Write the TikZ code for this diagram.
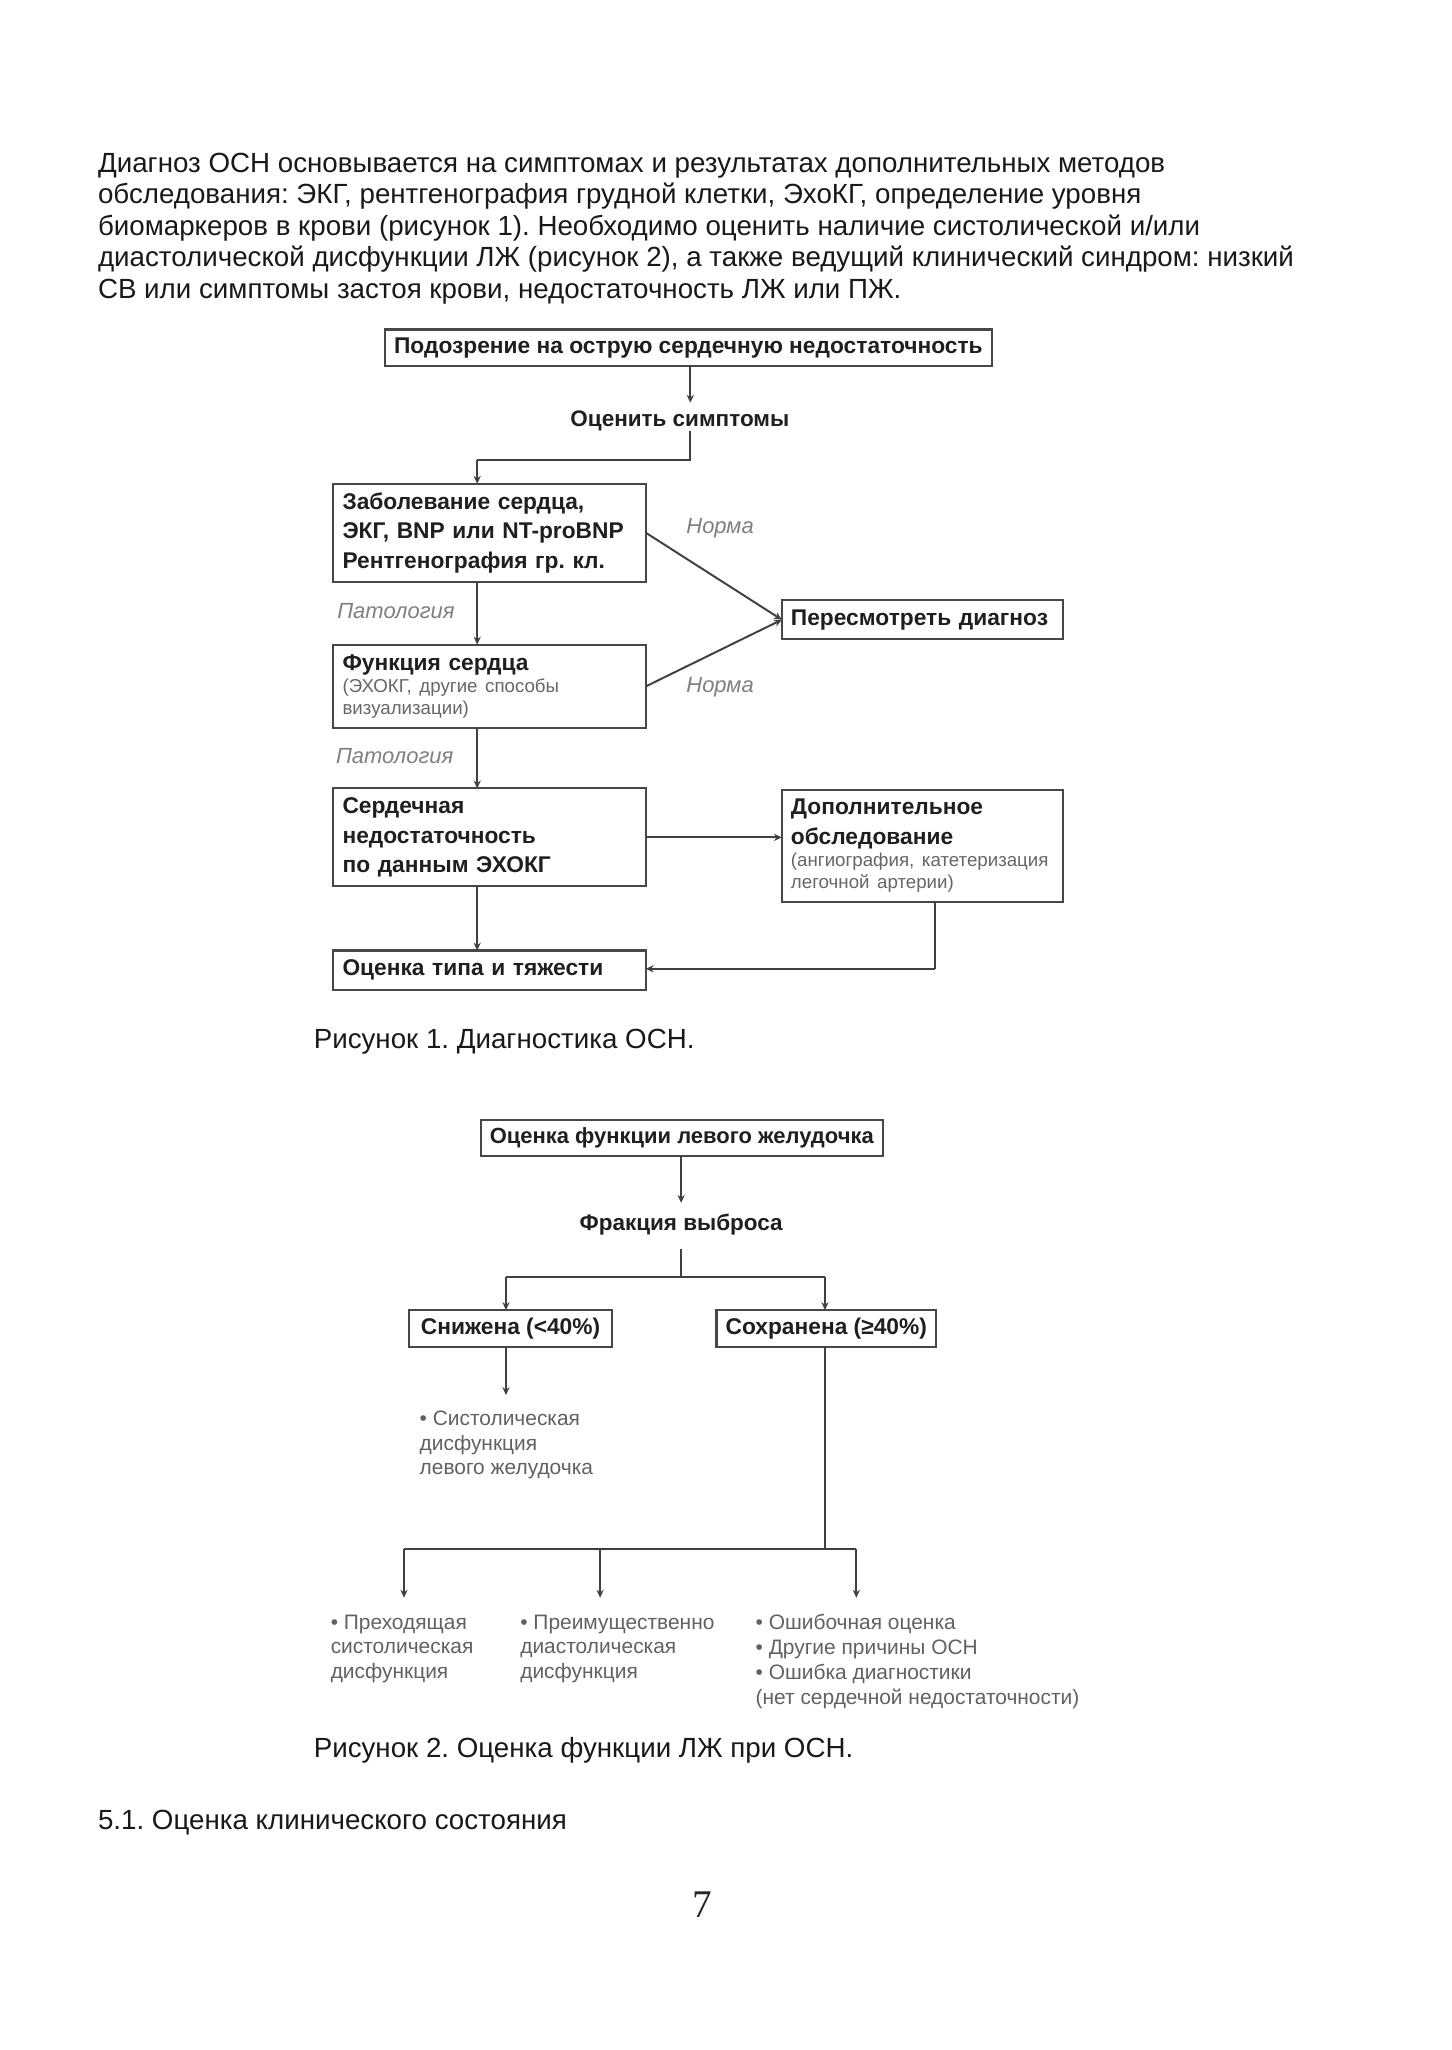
\documentclass[tikz,border=0pt]{standalone}
\usepackage{fontspec}
\setmainfont{Liberation Sans}
\newfontfamily\serifnum{Liberation Serif}
\usetikzlibrary{arrows.meta}
\frenchspacing
\newcommand\smalltxt{\mdseries\fontsize{14.3}{17}\selectfont\color{black!60}}
\begin{document}
\begin{tikzpicture}[x=1pt,y=-1pt,
  every node/.style={inner sep=0pt, outer sep=0pt},
  body/.style={anchor=base west, font=\fontsize{21.2}{24}\selectfont, text=black!90},
  fbox/.style={draw=black!72, line width=1.6pt, fill=white, inner xsep=7pt, inner ysep=0pt,
    font=\bfseries\fontsize{17.4}{22.5}\selectfont, text=black!88},
  flab/.style={font=\bfseries\fontsize{17.2}{22}\selectfont, text=black!88},
  note/.style={anchor=north west, align=left, font=\fontsize{16}{19}\selectfont, text=black!62},
  lab/.style={anchor=west, font=\itshape\fontsize{16.8}{18}\selectfont, text=black!50},
  conn/.style={draw=black!75, line width=1.5pt},
  arr/.style={conn, -{Stealth[length=6pt,width=5.5pt]}},
]
\useasboundingbox[fill=white] (0,0) rectangle (1110,1568);

% body text
\node[body] (p1) at (75,132) {Диагноз ОСН основывается на симптомах и результатах дополнительных методов};
\node[body] (p2) at (75,156) {обследования: ЭКГ, рентгенография грудной клетки, ЭхоКГ, определение уровня};
\node[body] (p3) at (75,180) {биомаркеров в крови (рисунок 1). Необходимо оценить наличие систолической и/или};
\node[body] (p4) at (75,204) {диастолической дисфункции ЛЖ (рисунок 2), а также ведущий клинический синдром: низкий};
\node[body] (p5) at (75,228) {СВ или симптомы застоя крови, недостаточность ЛЖ или ПЖ.};

% figure 1
\node[fbox, minimum width=463pt, minimum height=28pt, align=center] (top) at (526.5,266) {Подозрение на острую сердечную недостаточность};
\node[flab] (symp) at (520,322) {Оценить симптомы};
\node[fbox, text width=225pt, minimum height=75pt, align=left] (b1) at (374.5,407.5)
  {Заболевание сердца,\\ЭКГ, BNP или NT-proBNP\\Рентгенография гр. кл.};
\node[fbox, text width=201pt, minimum height=30pt, align=left] (rev) at (705.5,474) {Пересмотреть диагноз};
\node[fbox, text width=225pt, minimum height=64pt, align=left] (b2) at (374.5,525)
  {Функция сердца\par{\smalltxt(ЭХОКГ, другие способы\\визуализации)\par}};
\node[fbox, text width=225pt, minimum height=75pt, align=left] (b3) at (374.5,640.5)
  {Сердечная\\недостаточность\\по данным ЭХОКГ};
\node[fbox, text width=201pt, minimum height=86pt, align=left] (b4) at (705.5,647)
  {Дополнительное\\обследование\par{\smalltxt(ангиография, катетеризация\\легочной артерии)\par}};
\node[fbox, text width=225pt, minimum height=30pt, align=left] (b5) at (374.5,742) {Оценка типа и тяжести};

\node[lab] (n1) at (525,404) {Норма};
\node[lab] (n2) at (525,526) {Норма};
\node[lab] (pa1) at (258,467) {Патология};
\node[lab] (pa2) at (257,578) {Патология};

\coordinate (j0) at (528,308);
\coordinate (j1) at (528,352);
\coordinate (j2) at (365,352);
\coordinate (j3) at (715,741);

\draw[arr] (top.south -| j0) -- (j0);
\draw[conn] (j1 |- symp.south) -- (j1) -- (j2);
\draw[arr] (j2) -- (j2 |- b1.north);
\draw[arr] (b1.south -| j2) -- (b2.north -| j2);
\draw[arr] (b2.south -| j2) -- (b3.north -| j2);
\draw[arr] (b3.south -| j2) -- (b5.north -| j2);
\draw[arr] (b1.east) -- (rev.west);
\draw[arr] (b2.east) -- (rev.west);
\draw[arr] (b3.east) -- (b3.east -| b4.west);
\draw[conn] (b4.south -| j3) -- (j3);
\draw[arr] (j3) -- (j3 -| b5.east);

\node[body] (cap1) at (240,802) {Рисунок 1. Диагностика ОСН.};

% figure 2
\node[fbox, minimum width=303pt, minimum height=27pt, align=center, font=\bfseries\fontsize{16.8}{20}\selectfont] (lv) at (521.5,870.5) {Оценка функции левого желудочка};
\node[flab] (ef) at (521,937) {Фракция выброса};
\node[fbox, minimum width=155pt, minimum height=28pt, align=center, font=\bfseries\fontsize{17.4}{20}\selectfont] (low) at (390.5,1016) {Снижена (<40\%)};
\node[fbox, minimum width=168pt, minimum height=28pt, align=center, font=\bfseries\fontsize{17.4}{20}\selectfont] (pres) at (632,1016) {Сохранена (≥40\%)};

\node[note] (sys) at (321,1079) {• Систолическая\\дисфункция\\левого желудочка};
\node[note] (t1) at (253,1235) {• Преходящая\\систолическая\\дисфункция};
\node[note] (t2) at (398,1235) {• Преимущественно\\диастолическая\\дисфункция};
\node[note] (t3) at (578,1235) {• Ошибочная оценка\\• Другие причины ОСН\\• Ошибка диагностики\\(нет сердечной недостаточности)};

\coordinate (e0) at (521,920);
\coordinate (e1) at (521,955);
\coordinate (k1) at (521,977);
\coordinate (k2) at (387,977);
\coordinate (k3) at (631,977);
\coordinate (s1) at (387,1067);
\coordinate (k4) at (631,1185);
\coordinate (k5) at (309,1185);
\coordinate (k6) at (459,1185);
\coordinate (k7) at (655,1185);
\coordinate (d1) at (309,1222);
\coordinate (d2) at (459,1222);
\coordinate (d3) at (655,1222);

\draw[arr] (lv.south -| e0) -- (e0);
\draw[conn] (e1) -- (k1);
\draw[conn] (k2) -- (k3);
\draw[arr] (k2) -- (k2 |- low.north);
\draw[arr] (k3) -- (k3 |- pres.north);
\draw[arr] (low.south -| s1) -- (s1);
\draw[conn] (pres.south -| k4) -- (k4);
\draw[conn] (k5) -- (k7);
\draw[arr] (k5) -- (d1);
\draw[arr] (k6) -- (d2);
\draw[arr] (k7) -- (d3);

\node[body] (cap2) at (240,1344) {Рисунок 2. Оценка функции ЛЖ при ОСН.};
\node[body] (sec) at (75,1399) {5.1. Оценка клинического состояния};
\node[font=\serifnum\fontsize{30}{34}\selectfont, text=black!85] (pg) at (537,1457) {7};
\end{tikzpicture}
\end{document}
